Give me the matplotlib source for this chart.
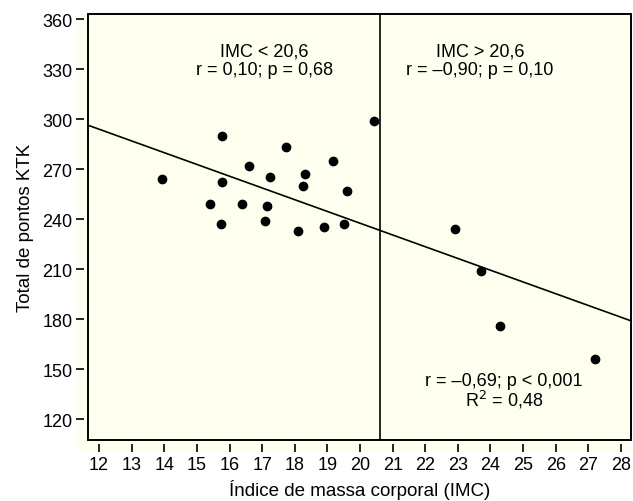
import matplotlib
matplotlib.use("Agg")
import matplotlib.pyplot as plt
from matplotlib.patches import Rectangle
import numpy as np

plt.rcParams['font.family'] = ['Liberation Sans', 'DejaVu Sans']

# data
imc = [13.92, 15.78, 15.78, 15.39, 15.74, 16.37, 16.59, 17.24, 17.14, 17.10,
       17.74, 18.31, 18.25, 18.10, 19.17, 18.90, 19.61, 19.52, 20.43,
       22.91, 23.72, 24.30, 27.22]
ktk = [264, 290, 262, 249, 237, 249, 272, 265, 248, 239,
       283, 267, 260, 233, 275, 235, 257, 237, 299,
       234, 209, 176, 156]
fit_intercept = 378.5
fit_slope = -7.05
cut = 20.6
xticks = list(range(12, 29))
yticks = [120, 150, 180, 210, 240, 270, 300, 330, 360]

W, H = 633, 502
fig = plt.figure(figsize=(W / 100, H / 100), dpi=100)
bg = '#fffff0'
# cream background region behind axes and ticks (pixel coords)
fig.patches.append(Rectangle((78 / W, 1 - 452 / H), (630.7 - 78) / W, (452 - 14.7) / H,
                             transform=fig.transFigure, facecolor=bg,
                             edgecolor='none', zorder=-5))
ax = fig.add_axes([0.1385, 0.1221, 0.8579, 0.8486])
ax.set_facecolor(bg)
xlim = (11.65, 28.30)
ylim = (107.6, 363.2)
ax.set_xlim(*xlim)
ax.set_ylim(*ylim)

xs = np.array(xlim)
ax.plot(xs, fit_intercept + fit_slope * xs, color='black', lw=1.2, zorder=2)
ax.axvline(cut, color='black', lw=1.2, zorder=2)
ax.plot(imc, ktk, 'o', color='black', ms=6, zorder=3)

fs = 13
ax.text(17.06, 341, 'IMC < 20,6', ha='center', va='center', fontsize=fs)
ax.text(17.06, 329.5, 'r = 0,10; p = 0,68', ha='center', va='center', fontsize=fs)
ax.text(23.68, 341, 'IMC > 20,6', ha='center', va='center', fontsize=fs)
ax.text(23.68, 329.5, 'r = \u20130,90; p = 0,10', ha='center', va='center', fontsize=fs)
ax.text(24.42, 143, 'r = \u20130,69; p < 0,001', ha='center', va='center', fontsize=fs)
ax.text(24.42, 132, 'R$^2$ = 0,48', ha='center', va='center', fontsize=fs)

ax.set_xticks(xticks)
ax.set_yticks(yticks)
ax.tick_params(direction='out', length=6, width=1.2, labelsize=fs, pad=2)
ax.tick_params(axis='x', pad=3)
for s in ['top', 'right']:
    ax.spines[s].set_visible(False)
for s in ['left', 'bottom']:
    ax.spines[s].set_position(('outward', 3))
    ax.spines[s].set_color('none')
ax.add_patch(Rectangle((0, 0), 1, 1, transform=ax.transAxes, fill=False,
                       lw=1.4, edgecolor='black', clip_on=False, zorder=5))

ax.set_xlabel('\u00cdndice de massa corporal (IMC)', fontsize=13.5, labelpad=4)
ax.set_ylabel('Total de pontos KTK', fontsize=13.5, labelpad=6)

fig.savefig('out.png', dpi=100)
